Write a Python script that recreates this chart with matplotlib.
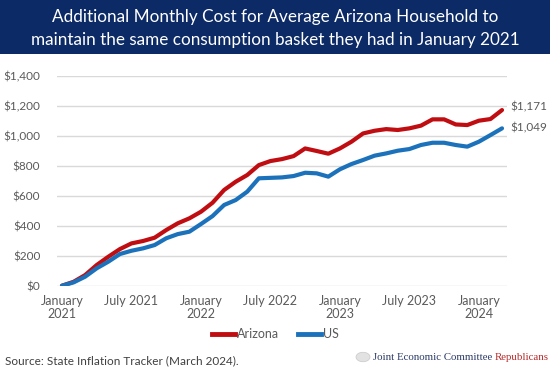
import matplotlib
matplotlib.use("Agg")
import matplotlib.pyplot as plt
from matplotlib.patches import Rectangle, Circle
from matplotlib.lines import Line2D

# ---- data (Jan 2021 .. Mar 2024, monthly) ----
months = list(range(39))
arizona = [0, 26, 71, 138, 193, 244, 282, 298, 320, 371, 416, 449, 493, 553, 638,
           693, 738, 804, 831, 844, 864, 915, 898, 880, 915, 960, 1015, 1033, 1044,
           1038, 1049, 1067, 1109, 1109, 1075, 1071, 1100, 1111, 1171]
us = [0, 22, 60, 116, 160, 211, 233, 249, 271, 316, 344, 360, 411, 464, 538,
      571, 627, 716, 719, 722, 731, 753, 749, 727, 776, 811, 838, 867, 882, 900,
      911, 938, 953, 953, 938, 927, 960, 1004, 1049]
tick_pos = [0, 6, 12, 18, 24, 30, 36]
tick_labels = ["January\n2021", "July 2021", "January\n2022", "July 2022",
               "January\n2023", "July 2023", "January\n2024"]
y_ticks = [0, 200, 400, 600, 800, 1000, 1200, 1400]
end_labels = ["$1,171", "$1,049"]

RED = "#c00d12"
BLUE = "#1b72bb"
GRAY = "#5a5a5a"
NAVY = "#0c2a65"
FONT = "Lato"

W, H = 550, 372
fig = plt.figure(figsize=(5.5, 3.72), dpi=100)

# Title banner
fig.patches.append(Rectangle((0, 1 - 54 / H), 1, 54 / H, transform=fig.transFigure,
                             facecolor=NAVY, edgecolor="none", zorder=0))
fig.text(0.5, 1 - 17 / H, "Additional Monthly Cost for Average Arizona Household to",
         ha="center", va="center", color="white", fontsize=12.3, family=FONT)
fig.text(0.5, 1 - 40 / H, "maintain the same consumption basket they had in January 2021",
         ha="center", va="center", color="white", fontsize=12.3, family=FONT)

ax = fig.add_axes([57 / W, 1 - 285.7 / H, (507 - 57) / W, (285.7 - 75.7) / H])
ax.plot(months, arizona, color=RED, lw=3.0, solid_capstyle="round", solid_joinstyle="round", zorder=3)
ax.plot(months, us, color=BLUE, lw=3.0, solid_capstyle="round", solid_joinstyle="round", zorder=3)
ax.set_xlim(-0.43, 38.43)
ax.set_ylim(0, 1400)
ax.set_yticks(y_ticks)
ax.set_yticklabels([f"${v:,}" for v in y_ticks], family=FONT, fontsize=8.5, color=GRAY)
ax.set_xticks(tick_pos)
ax.set_xticklabels(tick_labels, family=FONT, fontsize=9, color=GRAY, linespacing=1.1)
ax.tick_params(length=0, pad=7)
ax.tick_params(axis="y", pad=12)
ax.grid(axis="y", color="#d9d9d9", lw=1)
ax.set_axisbelow(True)
for s in ax.spines.values():
    s.set_visible(False)

ax.annotate(end_labels[0], (months[-1], arizona[-1]), xytext=(6, 2.5), textcoords="offset points",
            ha="left", va="center", family=FONT, fontsize=8.5, color=GRAY, annotation_clip=False)
ax.annotate(end_labels[1], (months[-1], us[-1]), xytext=(6, 0.5), textcoords="offset points",
            ha="left", va="center", family=FONT, fontsize=8.5, color=GRAY, annotation_clip=False)

handles = [Line2D([], [], color=RED, lw=3.5), Line2D([], [], color=BLUE, lw=3.5)]
fig.legend(handles, ["Arizona", "US"], loc="center", bbox_to_anchor=(0.5, 1 - 334 / H),
           ncol=2, frameon=False, prop={"family": FONT, "size": 9}, labelcolor=GRAY,
           handlelength=1.9, handletextpad=0.1, columnspacing=1.5)

fig.text(5 / W, 1 - 361 / H, "Source: State Inflation Tracker (March 2024).",
         ha="left", va="center", fontsize=8.5, family=FONT, color="#404040")

# logo
fig.patches.append(Circle((363 / W, 1 - 357 / H), 7 / W, transform=fig.transFigure,
                          facecolor="#e2e2e2", edgecolor="#c8c8c8", lw=0.5))
t1 = fig.text(373 / W, 1 - 358 / H, "Joint Economic Committee ", ha="left", va="center",
              fontsize=7.8, family="Liberation Serif", color="#2b3a67")
fig.canvas.draw()
bb = t1.get_window_extent()
fig.text(bb.x1 / W, 1 - 358 / H, "Republicans", ha="left", va="center",
         fontsize=7.8, family="Liberation Serif", color="#b52a2a")

fig.savefig("out.png", dpi=100)
